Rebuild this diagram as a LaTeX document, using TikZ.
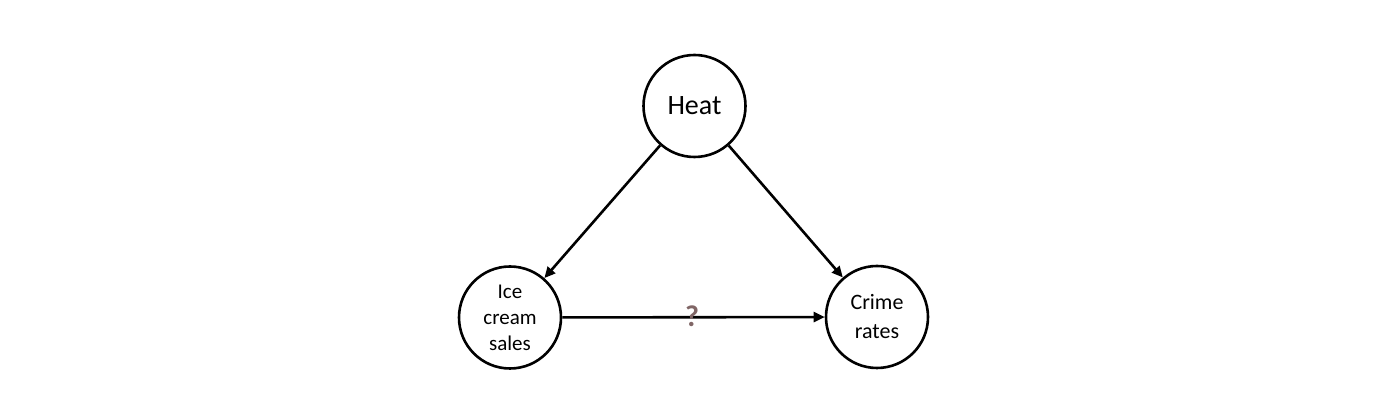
\documentclass[tikz,border=0pt]{standalone}
\usepackage{fontspec}
\setmainfont{Carlito}
\usetikzlibrary{arrows.meta}
\definecolor{qcol}{RGB}{128,102,102}
\begin{document}
\begin{tikzpicture}[x=1pt,y=1pt,
  var/.style={circle,draw=black,line width=2.6pt,minimum size=102pt,inner sep=0pt,align=center},
  conn/.style={line width=2.6pt,-{Triangle[length=11pt,width=10pt]}}]
\useasboundingbox (0,0) rectangle (1400,403);
\node[var,font=\fontsize{28}{30}\selectfont] (heat) at (694.5,297) {Heat};
\node[var,font=\fontsize{21}{26}\selectfont] (ice) at (510,85.5) {Ice\\cream\\sales};
\node[var,font=\fontsize{22}{29}\selectfont] (crime) at (877,86) {Crime\\rates};
\draw[conn] (heat) -- (ice);
\draw[conn] (heat) -- (crime);
\draw[conn] (ice) -- (crime);
\node[font=\bfseries\fontsize{30}{30}\selectfont,text=qcol,inner sep=0pt] (q) at (692,86.5) {?};
\end{tikzpicture}
\end{document}
